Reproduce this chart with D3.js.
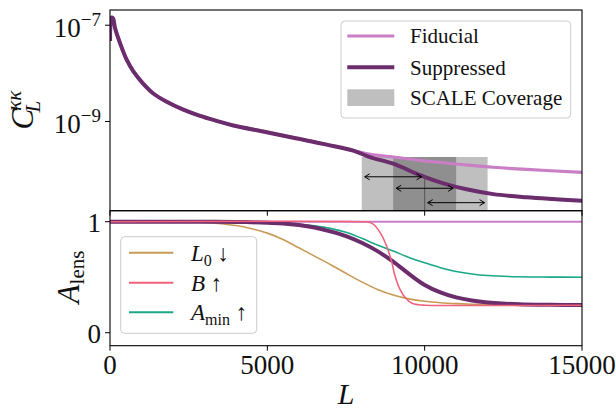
<!DOCTYPE html>
<html><head><meta charset="utf-8">
<script src="https://cdn.jsdelivr.net/npm/d3@7"></script>
<style>
body{margin:0;background:#fff;}
svg{display:block;font-family:"Liberation Serif","Times New Roman",serif;}
</style></head><body>
<svg id="c" width="616" height="412"></svg>
<script>
// ---------- data ----------
const clL   = [2, 20, 60, 100, 159, 318, 530, 742, 1060, 1377, 1801, 2331, 2860, 3390, 3920, 4980, 5826, 6886, 7733, 8280, 9000, 9850, 10590, 11330, 12180, 13240, 15000];
const clFid = [4.7e-8, 1.16e-7, 1.45e-7, 1.38e-7, 8.75e-8, 4.27e-8, 1.92e-8, 1.10e-8, 6.07e-9, 3.82e-9, 2.57e-9, 1.76e-9, 1.31e-9, 1.03e-9, 8.26e-10, 6.0e-10, 4.59e-10, 3.31e-10, 2.50e-10, 2.07e-10, 1.83e-10, 1.56e-10, 1.39e-10, 1.25e-10, 1.12e-10, 1.01e-10, 8.8e-11];
const clSup = [4.7e-8, 1.16e-7, 1.45e-7, 1.38e-7, 8.75e-8, 4.27e-8, 1.92e-8, 1.10e-8, 6.07e-9, 3.82e-9, 2.57e-9, 1.76e-9, 1.31e-9, 1.03e-9, 8.26e-10, 6.0e-10, 4.59e-10, 3.31e-10, 2.48e-10, 1.80e-10, 1.33e-10, 7.7e-11, 5.2e-11, 3.9e-11, 3.1e-11, 2.67e-11, 2.26e-11];

const aL      = [0, 1000, 2000, 3000, 4000, 4500, 5000, 5500, 6000, 6500, 7000, 7500, 8000, 8500, 9000, 9500, 10000, 10500, 11000, 11500, 12000, 13000, 14000, 15000];
const aFid    = [1, 1, 1, 1, 1, 1, 1, 1, 1, 1, 1, 1, 1, 1, 1, 1, 1, 1, 1, 1, 1, 1, 1, 1];
const aSup    = [1, 1, 1, 1, 0.998, 0.995, 0.99, 0.984, 0.97, 0.947, 0.913, 0.87, 0.81, 0.735, 0.64, 0.53, 0.43, 0.363, 0.318, 0.29, 0.273, 0.256, 0.251, 0.25];
const aL0     = [1, 1, 1, 0.993, 0.965, 0.937, 0.897, 0.84, 0.765, 0.69, 0.615, 0.535, 0.458, 0.39, 0.34, 0.305, 0.283, 0.27, 0.262, 0.257, 0.254, 0.251, 0.25, 0.25];
const aAmin   = [1, 1, 1, 1, 0.998, 0.996, 0.993, 0.987, 0.977, 0.962, 0.94, 0.905, 0.85, 0.79, 0.735, 0.678, 0.63, 0.586, 0.552, 0.529, 0.515, 0.504, 0.501, 0.5];
const bL      = [0, 8000, 8250, 8400, 8600, 8800, 8950, 9050, 9200, 9400, 9600, 9800, 10000, 15000];
const bA      = [1, 1, 0.995, 0.97, 0.895, 0.775, 0.64, 0.52, 0.40, 0.31, 0.265, 0.252, 0.248, 0.248];

const scaleRanges = [[8000, 10000], [9000, 11000], [10000, 12000]];
const arrowY      = [7.1e-11, 4.1e-11, 2.06e-11];
const shadeTop    = 1.83e-10;

const xTicks    = [0, 5000, 10000, 15000];
const yLogTicks = [{v:1e-7, e:"\u22127"}, {v:1e-9, e:"\u22129"}];
const yLinTicks = [0, 1];

const topLegend = ["Fiducial", "Suppressed", "SCALE Coverage"];
const colors = {fid:"#c97ec6", sup:"#6b2d6b", L0:"#c99a55", B:"#f0627c", Amin:"#1aa888"};

// ---------- layout ----------
const svg = d3.select("#c");
const X0 = 110, X1 = 582;
const T0 = 10, T1 = 210.7, B0 = 210.7, B1 = 345.7;
const x = d3.scaleLinear().domain([0, 15000]).range([X0, X1]);
const yT = d3.scaleLog().domain([Math.pow(10, -10.853), Math.pow(10, -6.684)]).range([T1, T0]);
const yB = d3.scaleLinear().domain([-0.117, 1.099]).range([B1, B0]);
const smooth = d3.curveCatmullRom.alpha(0.5);

const defs = svg.append("defs");
defs.append("clipPath").attr("id","ct").append("rect").attr("x",X0).attr("y",T0).attr("width",X1-X0).attr("height",T1-T0);
defs.append("clipPath").attr("id","cb").append("rect").attr("x",X0).attr("y",B0).attr("width",X1-X0).attr("height",B1-B0);

// ---------- top panel ----------
const gT = svg.append("g").attr("clip-path","url(#ct)");
scaleRanges.forEach(r => {
  gT.append("rect").attr("x", x(r[0])).attr("width", x(r[1]) - x(r[0]))
    .attr("y", yT(shadeTop)).attr("height", T1 - yT(shadeTop))
    .attr("fill", "#000").attr("fill-opacity", 0.25);
});
const lineT = (vals) => d3.line().x((d,i)=>x(clL[i])).y(d=>yT(d)).curve(smooth)(vals);
gT.append("path").attr("d", lineT(clFid)).attr("fill","none").attr("stroke",colors.fid).attr("stroke-width",3.2);
gT.append("path").attr("d", lineT(clSup)).attr("fill","none").attr("stroke",colors.sup).attr("stroke-width",4);

// vertical seam at 10000
gT.append("line").attr("x1",x(10000)).attr("x2",x(10000)).attr("y1",yT(arrowY[0])).attr("y2",T1)
  .attr("stroke","#555").attr("stroke-width",1);

// arrows
scaleRanges.forEach((r,i) => {
  const xa = x(r[0]) + 3, xb = x(r[1]) - 3, yy = yT(arrowY[i]);
  gT.append("line").attr("x1",xa).attr("x2",xb).attr("y1",yy).attr("y2",yy).attr("stroke","#000").attr("stroke-width",1);
  gT.append("path").attr("d",`M${xa+5},${yy-3}L${xa},${yy}L${xa+5},${yy+3}`).attr("fill","none").attr("stroke","#000").attr("stroke-width",1);
  gT.append("path").attr("d",`M${xb-5},${yy-3}L${xb},${yy}L${xb-5},${yy+3}`).attr("fill","none").attr("stroke","#000").attr("stroke-width",1);
});

// top frame + ticks
svg.append("rect").attr("x",X0).attr("y",T0).attr("width",X1-X0).attr("height",T1-T0).attr("fill","none").attr("stroke","#000").attr("stroke-width",1.1);
xTicks.forEach(t => svg.append("line").attr("x1",x(t)).attr("x2",x(t)).attr("y1",T1).attr("y2",T1+5).attr("stroke","#000").attr("stroke-width",1));
yLogTicks.forEach(t => {
  const yy = yT(t.v);
  svg.append("line").attr("x1",X0-5).attr("x2",X0).attr("y1",yy).attr("y2",yy).attr("stroke","#000").attr("stroke-width",1);
  const tx = svg.append("text").attr("x",X0-9).attr("y",yy+11.5).attr("text-anchor","end").attr("font-size",27).attr("fill","#111");
  tx.append("tspan").text("10");
  tx.append("tspan").attr("font-size",19).attr("dy",-11).text(t.e);
});

// top legend
const lgT = svg.append("g");
lgT.append("rect").attr("x",341).attr("y",21).attr("width",229.7).attr("height",97).attr("rx",4)
  .attr("fill","#fff").attr("fill-opacity",0.8).attr("stroke","#cccccc").attr("stroke-width",1);
const lgY = [36, 67.3, 98];
lgT.append("line").attr("x1",347.3).attr("x2",394.3).attr("y1",lgY[0]).attr("y2",lgY[0]).attr("stroke",colors.fid).attr("stroke-width",3.2);
lgT.append("line").attr("x1",347.3).attr("x2",394.3).attr("y1",lgY[1]).attr("y2",lgY[1]).attr("stroke",colors.sup).attr("stroke-width",4);
lgT.append("rect").attr("x",347.3).attr("width",47).attr("y",89.3).attr("height",16.7).attr("fill","#000").attr("fill-opacity",0.25);
topLegend.forEach((s,i)=> lgT.append("text").attr("x",410).attr("y",lgY[i]+7.3).attr("font-size",21).attr("fill","#111").text(s));

// y label top
const yl1 = svg.append("text").attr("transform","translate(33,110) rotate(-90)").attr("text-anchor","middle").attr("font-size",31).attr("fill","#111");
yl1.append("tspan").attr("font-style","italic").text("C");
yl1.append("tspan").attr("font-style","italic").attr("font-size",21).attr("dy",-12).attr("dx",-2).text("\u03ba\u03ba");
yl1.append("tspan").attr("font-style","italic").attr("font-size",21).attr("dy",19).attr("dx",-22).text("L");

// ---------- bottom panel ----------
const gB = svg.append("g").attr("clip-path","url(#cb)");
const lineB = (Ls, vals) => d3.line().x((d,i)=>x(Ls[i])).y(d=>yB(d)).curve(smooth)(vals);
gB.append("path").attr("d", lineB(aL, aFid)).attr("fill","none").attr("stroke",colors.fid).attr("stroke-width",2);
gB.append("path").attr("d", lineB(aL, aL0)).attr("fill","none").attr("stroke",colors.L0).attr("stroke-width",1.6);
gB.append("path").attr("d", lineB(aL, aAmin)).attr("fill","none").attr("stroke",colors.Amin).attr("stroke-width",1.6);
gB.append("path").attr("d", lineB(aL, aSup)).attr("fill","none").attr("stroke",colors.sup).attr("stroke-width",4);
gB.append("path").attr("d", lineB(bL, bA)).attr("fill","none").attr("stroke",colors.B).attr("stroke-width",1.6);

svg.append("rect").attr("x",X0).attr("y",B0).attr("width",X1-X0).attr("height",B1-B0).attr("fill","none").attr("stroke","#000").attr("stroke-width",1.1);
xTicks.forEach(t => {
  svg.append("line").attr("x1",x(t)).attr("x2",x(t)).attr("y1",B1).attr("y2",B1+5).attr("stroke","#000").attr("stroke-width",1);
  svg.append("text").attr("x",x(t)).attr("y",374).attr("text-anchor","middle").attr("font-size",27).attr("fill","#111").text(t);
});
yLinTicks.forEach(t => {
  svg.append("line").attr("x1",X0-5).attr("x2",X0).attr("y1",yB(t)).attr("y2",yB(t)).attr("stroke","#000").attr("stroke-width",1);
  svg.append("text").attr("x",X0-9).attr("y",yB(t)+10).attr("text-anchor","end").attr("font-size",27).attr("fill","#111").text(t);
});

// bottom legend
const lgB = svg.append("g");
lgB.append("rect").attr("x",120.7).attr("y",236.7).attr("width",136).attr("height",96.6).attr("rx",4)
  .attr("fill","#fff").attr("fill-opacity",0.8).attr("stroke","#cccccc").attr("stroke-width",1);
const bY = [252.7, 282.7, 312.3];
[colors.L0, colors.B, colors.Amin].forEach((c,i)=> lgB.append("line").attr("x1",129).attr("x2",173.3).attr("y1",bY[i]).attr("y2",bY[i]).attr("stroke",c).attr("stroke-width",2));
let t1 = lgB.append("text").attr("x",191).attr("y",bY[0]+8).attr("font-size",23).attr("fill","#111");
t1.append("tspan").attr("font-style","italic").text("L");
t1.append("tspan").attr("font-size",16).attr("dy",5).text("0");
t1.append("tspan").attr("dy",-5).text(" \u2193");
let t2 = lgB.append("text").attr("x",191).attr("y",bY[1]+8).attr("font-size",23).attr("fill","#111");
t2.append("tspan").attr("font-style","italic").text("B");
t2.append("tspan").text(" \u2191");
let t3 = lgB.append("text").attr("x",191).attr("y",bY[2]+8).attr("font-size",23).attr("fill","#111");
t3.append("tspan").attr("font-style","italic").text("A");
t3.append("tspan").attr("font-size",16).attr("dy",5).text("min");
t3.append("tspan").attr("dy",-5).text(" \u2191");

// y label bottom
const yl2 = svg.append("text").attr("transform","translate(79,277) rotate(-90)").attr("text-anchor","middle").attr("font-size",31).attr("fill","#111");
yl2.append("tspan").attr("font-style","italic").text("A");
yl2.append("tspan").attr("font-size",21).attr("dy",5).text("lens");

// x label
svg.append("text").attr("x",(X0+X1)/2).attr("y",404).attr("text-anchor","middle").attr("font-size",30).attr("font-style","italic").attr("fill","#111").text("L");
</script>
</body></html>
